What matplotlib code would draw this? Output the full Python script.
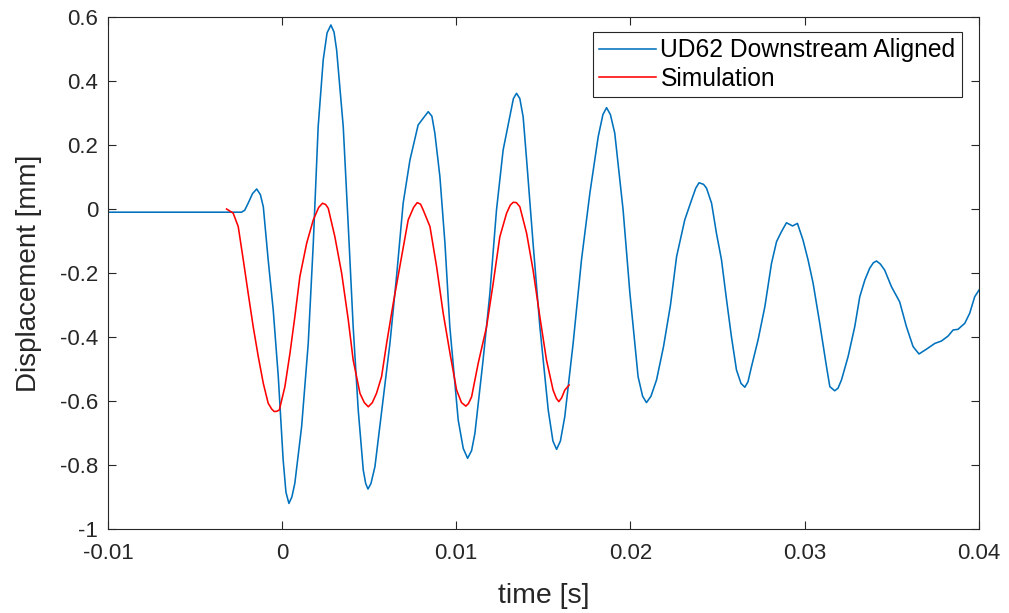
import numpy as np
import matplotlib
matplotlib.use('Agg')
import matplotlib.pyplot as plt

t_meas = [-0.0100, -0.00233, -0.00215, -0.00195, -0.00170, -0.00146, -0.00125, -0.00108,
          -0.00080, -0.00051, -0.00022,
          0.00006, 0.00022, 0.00039, 0.00056, 0.00073, 0.00112, 0.00150, 0.00179, 0.00207,
          0.00236, 0.00258, 0.00280, 0.00298, 0.00313, 0.00351, 0.00380, 0.00408, 0.00437,
          0.00466, 0.00480, 0.00493, 0.00510, 0.00533, 0.00561, 0.00619, 0.00657, 0.00695,
          0.00734, 0.00781, 0.00812, 0.00839, 0.00860, 0.00877, 0.00906, 0.00935, 0.00963,
          0.01011, 0.01040, 0.01065, 0.01088, 0.01107, 0.01154, 0.01193, 0.01231, 0.01269,
          0.01308, 0.01328, 0.01346, 0.01365, 0.01384, 0.01404, 0.01441, 0.01480, 0.01528,
          0.01555, 0.01576, 0.01598, 0.01623, 0.01671, 0.01719, 0.01767, 0.01815, 0.01842,
          0.01863, 0.01885, 0.01910, 0.01958, 0.01997, 0.02044, 0.02070, 0.02092, 0.02118,
          0.02150, 0.02190, 0.02230, 0.02265, 0.02312, 0.02351, 0.02375, 0.02394, 0.02420,
          0.02437, 0.02466, 0.02494, 0.02523, 0.02552, 0.02580, 0.02609, 0.02635, 0.02657,
          0.02675, 0.02695, 0.02733, 0.02772, 0.02810, 0.02839, 0.02867, 0.02896, 0.02931,
          0.02959, 0.02991, 0.03020, 0.03049, 0.03087, 0.03126, 0.03145, 0.03173, 0.03192,
          0.03212, 0.03250, 0.03288, 0.03317, 0.03346, 0.03374, 0.03395, 0.03413, 0.03435,
          0.03460, 0.03499, 0.03546, 0.03585, 0.03623, 0.03657, 0.03700, 0.03748, 0.03786,
          0.03824, 0.03853, 0.03881, 0.03920, 0.03948, 0.03977, 0.04002]
d_meas = [-0.010, -0.010, -0.004, 0.018, 0.048, 0.0625, 0.045, 0.007,
          -0.159, -0.316, -0.524,
          -0.784, -0.885, -0.920, -0.900, -0.857, -0.680, -0.420, -0.107, 0.257,
          0.466, 0.550, 0.575, 0.553, 0.497, 0.257, -0.055, -0.368, -0.628,
          -0.816, -0.858, -0.875, -0.858, -0.805, -0.680, -0.420, -0.211, 0.018,
          0.153, 0.2625, 0.285, 0.304, 0.290, 0.237, 0.101, -0.107, -0.368,
          -0.659, -0.748, -0.779, -0.755, -0.701, -0.472, -0.263, -0.003, 0.184,
          0.290, 0.345, 0.3615, 0.345, 0.288, 0.153, -0.107, -0.368, -0.628,
          -0.725, -0.751, -0.725, -0.649, -0.420, -0.159, 0.049, 0.226, 0.295,
          0.3166, 0.295, 0.237, -0.003, -0.263, -0.524, -0.585, -0.605, -0.585,
          -0.534, -0.430, -0.300, -0.149, -0.034, 0.028, 0.065, 0.082, 0.077,
          0.065, 0.018, -0.076, -0.159, -0.284, -0.399, -0.503, -0.545, -0.557,
          -0.540, -0.493, -0.409, -0.305, -0.170, -0.102, -0.071, -0.043, -0.053,
          -0.045, -0.097, -0.159, -0.232, -0.357, -0.493, -0.555, -0.568, -0.560,
          -0.534, -0.461, -0.368, -0.274, -0.222, -0.185, -0.168, -0.1625, -0.172,
          -0.191, -0.243, -0.290, -0.368, -0.430, -0.453, -0.438, -0.420, -0.4125,
          -0.397, -0.378, -0.376, -0.357, -0.326, -0.274, -0.253]

# simulation
t_sim = [-0.00319, -0.00281, -0.00252, -0.00223, -0.00195, -0.00166, -0.00137, -0.00108,
         -0.00080, -0.00060, -0.00045, -0.00030, -0.00016, 0.00016, 0.00045, 0.00073,
         0.00102, 0.00141, 0.00179, 0.00210, 0.00232, 0.00250, 0.00265, 0.00303, 0.00342,
         0.00380, 0.00408, 0.00447, 0.00472, 0.00495, 0.00518, 0.00542, 0.00571, 0.00600,
         0.00638, 0.00686, 0.00724, 0.00755, 0.00776, 0.00795, 0.00810, 0.00849, 0.00887,
         0.00925, 0.00964, 0.01002, 0.01030, 0.01055, 0.01070, 0.01088, 0.01126, 0.01174,
         0.01212, 0.01250, 0.01289, 0.01310, 0.01327, 0.01345, 0.01365, 0.01404, 0.01441,
         0.01480, 0.01518, 0.01556, 0.01575, 0.01589, 0.01605, 0.01623, 0.01648]
d_sim = [0.000, -0.013, -0.055, -0.159, -0.263, -0.368, -0.461, -0.545,
         -0.607, -0.625, -0.633, -0.632, -0.628, -0.555, -0.451, -0.337,
         -0.211, -0.107, -0.034, 0.005, 0.018, 0.014, 0.002, -0.087, -0.201,
         -0.347, -0.472, -0.576, -0.605, -0.618, -0.605, -0.576, -0.524, -0.420,
         -0.295, -0.149, -0.034, 0.005, 0.020, 0.015, -0.003, -0.055, -0.180,
         -0.326, -0.451, -0.566, -0.605, -0.616, -0.608, -0.587, -0.482, -0.368,
         -0.232, -0.087, -0.013, 0.012, 0.021, 0.020, 0.007, -0.076, -0.191,
         -0.337, -0.472, -0.566, -0.592, -0.602, -0.590, -0.566, -0.550]

x_ticks = [-0.01, 0, 0.01, 0.02, 0.03, 0.04]
x_ticklabels = ['-0.01', '0', '0.01', '0.02', '0.03', '0.04']
y_ticks = [-1, -0.8, -0.6, -0.4, -0.2, 0, 0.2, 0.4, 0.6]
y_ticklabels = ['-1', '-0.8', '-0.6', '-0.4', '-0.2', '0', '0.2', '0.4', '0.6']

plt.rcParams['font.family'] = ['Liberation Sans', 'DejaVu Sans']
axcol = '#262626'

dpi = 100
fig = plt.figure(figsize=(1009/dpi, 613/dpi), dpi=dpi)
ax = fig.add_axes([0.107, 0.137, 0.863, 0.8353])

ax.plot(t_meas, d_meas, color='#0072BD', linewidth=1.15, label='UD62 Downstream Aligned')
ax.plot(t_sim, d_sim, color='#FF0000', linewidth=1.15, label='Simulation')

ax.set_xlim(-0.01, 0.04)
ax.set_ylim(-1, 0.6)
ax.set_xticks(x_ticks)
ax.set_xticklabels(x_ticklabels)
ax.set_yticks(y_ticks)
ax.set_yticklabels(y_ticklabels)
ax.tick_params(direction='in', length=6, width=0.8, colors=axcol, labelsize=16,
               top=True, right=True, pad=7)
ax.tick_params(axis='x', pad=10)
for s in ax.spines.values():
    s.set_color(axcol)
    s.set_linewidth(0.8)

ax.set_xlabel('time [s]', fontsize=20.5, color=axcol, labelpad=14)
ax.set_ylabel('Displacement [mm]', fontsize=20, color=axcol, labelpad=13)

leg = ax.legend(loc='upper right', bbox_to_anchor=(0.9805, 0.9707), borderaxespad=0,
                fontsize=17.7, fancybox=False, framealpha=1, edgecolor=axcol,
                handlelength=2.3, handletextpad=0.2, borderpad=0.25, labelspacing=0.2)
leg.get_frame().set_linewidth(0.8)

plt.savefig('out.png', dpi=dpi)
